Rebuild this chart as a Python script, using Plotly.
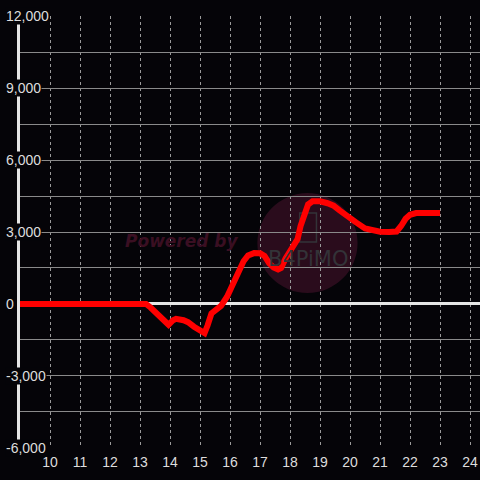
import plotly.graph_objects as go

# data
hours = [9.0, 13.2, 13.35, 13.6, 13.85, 13.95, 14.1, 14.2, 14.45, 14.6, 14.8, 15.0, 15.15,
         15.25, 15.38, 15.55, 15.7, 15.9, 16.15, 16.3, 16.45, 16.6, 16.8, 17.0, 17.15,
         17.3, 17.45, 17.6, 17.7, 17.85, 18.0, 18.15, 18.25, 18.35, 18.45, 18.6, 18.75,
         19.0, 19.25, 19.45, 19.65, 19.9, 20.2, 20.5, 20.75, 21.0, 21.3, 21.55, 21.7,
         21.85, 22.0, 22.2, 23.0]
values = [0, 0, -150, -450, -800, -870, -680, -620, -680, -760, -950, -1150, -1220,
          -900, -400, -230, -80, 300, 950, 1350, 1780, 2020, 2120, 2110, 2000,
          1700, 1520, 1440, 1500, 1900, 2200, 2450, 2700, 3250, 3700, 4150, 4280,
          4280, 4200, 4100, 3900, 3650, 3400, 3150, 3050, 3010, 3000, 3020, 3250,
          3550, 3720, 3790, 3790]
x_ticks = list(range(10, 25))
y_grid = list(range(-6000, 12001, 1500))
y_label_vals = [12000, 9000, 6000, 3000, 0, -3000, -6000]
y_label_text = ["12,000", "9,000", "6,000", "3,000", "0", "-3,000", "-6,000"]

BG = "#050408"
W, H = 480, 480
ML, MR, MT, MB = 20, 0, 16, 32
pw = W - ML - MR

fig = go.Figure()
fig.add_trace(go.Scatter(x=hours, y=values, mode="lines",
                         line=dict(color="#ff0000", width=6, shape="linear"),
                         hoverinfo="skip"))

annotations = []
for v, t in zip(y_label_vals, y_label_text):
    annotations.append(dict(xref="paper", yref="y", x=(5 - ML) / pw, y=v, text=t,
                            showarrow=False, xanchor="left", yanchor="middle",
                            bgcolor=BG, borderpad=0,
                            font=dict(family="Liberation Sans, Arial", size=14, color="#dddddd")))

# watermark
annotations.append(dict(xref="x", yref="y", x=14.4, y=2625, text="Powered by", showarrow=False,
                        font=dict(family="DejaVu Sans", size=17, color="#3a0f22",
                                  weight="bold", style="italic")))
annotations.append(dict(xref="x", yref="y", x=18.6, y=1880, text="B4PiMO", showarrow=False,
                        font=dict(family="DejaVu Sans", size=21, color="#333338")))

shapes = [
    dict(type="circle", xref="x", yref="y", layer="below",
         x0=18.58 - 1.67, x1=18.58 + 1.67, y0=2540 - 2083, y1=2540 + 2083,
         fillcolor="#2a0c1c", line=dict(width=0)),
    dict(type="rect", xref="x", yref="y", layer="below",
         x0=18.32, x1=18.88, y0=2580, y1=3790,
         fillcolor="rgba(0,0,0,0)", line=dict(color="#333338", width=1.5)),
]

fig.update_layout(
    width=W, height=H, margin=dict(l=ML, r=MR, t=MT, b=MB, autoexpand=False),
    paper_bgcolor=BG, plot_bgcolor=BG, showlegend=False,
    annotations=annotations, shapes=shapes,
    xaxis=dict(range=[9, 24.33], tickvals=x_ticks, ticks="", showline=False, automargin=False,
               showgrid=True, gridcolor="#9a9a9a", gridwidth=1, griddash="dot",
               zeroline=False, ticklabelstandoff=4,
               tickfont=dict(family="Liberation Sans, Arial", size=14, color="#dddddd")),
    yaxis=dict(range=[-6010, 12010], tickvals=y_grid, showticklabels=False, ticks="",
               automargin=False,
               showgrid=True, gridcolor="#8a8a8a", gridwidth=1,
               zeroline=True, zerolinecolor="#e6e6e6", zerolinewidth=3,
               showline=True, linecolor="#e6e6e6", linewidth=3),
)

fig.write_html("out.html",
               config={"displayModeBar": False, "staticPlot": True},
               post_script="document.body.style.margin='0';"
                           "document.body.style.overflow='hidden';"
                           "document.body.style.background='" + BG + "';")
